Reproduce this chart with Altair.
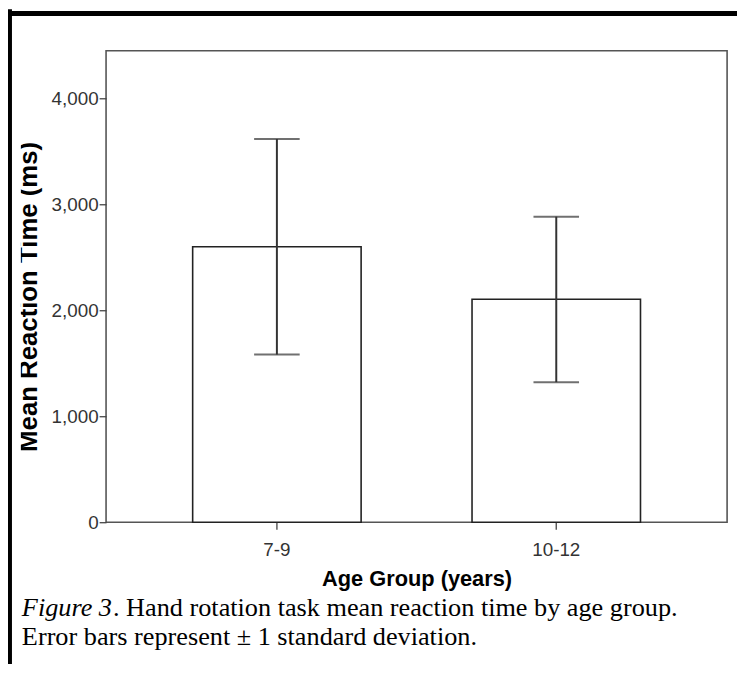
import altair as alt
import pandas as pd

# ---- data ----
groups = ["7-9", "10-12"]
means = [2600, 2105]
sd_low = [1582, 1322]
sd_high = [3617, 2884]
y_ticks = [0, 1000, 2000, 3000, 4000]
caption_italic = "Figure 3"
caption_line1 = ". Hand rotation task mean reaction time by age group."
caption_line2 = "Error bars represent \u00b1 1 standard deviation."

df = pd.DataFrame({"group": groups, "mean": means, "lo": sd_low, "hi": sd_high})

W, H = 627, 476
PAD_L, PAD_T = 99, 40
CAP_FS = 26.5
CAP_X = 22

xenc = alt.X(
    "group:N",
    sort=groups,
    scale=alt.Scale(paddingInner=0.397, paddingOuter=0.31),
    axis=alt.Axis(
        title="Age Group (years)",
        labelAngle=0,
        labelBaseline="alphabetic",
        labelPadding=27,
        titleY=64,
        titleFontSize=22,
        titleBaseline="alphabetic",
    ),
)
yscale = alt.Scale(domain=[0, 4450], nice=False)

base = alt.Chart(df)

bars = base.mark_bar(fill="white", stroke="#222", strokeWidth=1.6).encode(
    x=xenc,
    y=alt.Y(
        "mean:Q",
        scale=yscale,
        axis=alt.Axis(
            values=y_ticks,
            format=",.0f",
            title="Mean Reaction Time (ms)",
            labelPadding=1,
            titleFontSize=26,
            titleAngle=270,
            titleX=-70,
            titleY=248,
            titleAlign="center",
            titleBaseline="alphabetic",
        ),
    ),
)
rules = base.mark_rule(color="#333", strokeWidth=2).encode(
    x=alt.X("group:N", sort=groups), y=alt.Y("lo:Q", scale=yscale), y2="hi:Q"
)
cap_lo = base.mark_tick(color="#333", thickness=2, size=46).encode(
    x=alt.X("group:N", sort=groups), y=alt.Y("lo:Q", scale=yscale)
)
cap_hi = base.mark_tick(color="#333", thickness=2, size=46).encode(
    x=alt.X("group:N", sort=groups), y=alt.Y("hi:Q", scale=yscale)
)

one = pd.DataFrame({"k": [0]})
# the reference's left edge crops the tops of the rotated y title
crop = alt.Chart(one).mark_rect(color="white").encode(
    x=alt.value(-PAD_L + 3), x2=alt.value(21 - 8 - PAD_L),
    y=alt.value(60), y2=alt.value(430)
)
frame_top = alt.Chart(one).mark_rule(color="black", strokeWidth=5).encode(
    x=alt.value(-PAD_L - 2), x2=alt.value(W + 20), y=alt.value(-PAD_T + 2.5)
)
frame_left = alt.Chart(one).mark_rule(color="black", strokeWidth=4).encode(
    x=alt.value(-PAD_L + 2), y=alt.value(-PAD_T - 2), y2=alt.value(H + 200)
)

ITAL_W = 3.472 * CAP_FS
cap1a = alt.Chart(pd.DataFrame({"t": [caption_italic]})).mark_text(
    align="left", baseline="alphabetic", font="Liberation Serif", fontSize=CAP_FS,
    fontStyle="italic", color="black"
).encode(x=alt.value(CAP_X - 8 - PAD_L), y=alt.value(619 - 8 - PAD_T), text="t:N")
cap1b = alt.Chart(pd.DataFrame({"t": [caption_line1]})).mark_text(
    align="left", baseline="alphabetic", font="Liberation Serif", fontSize=CAP_FS,
    color="black"
).encode(x=alt.value(CAP_X + ITAL_W - 8 - PAD_L), y=alt.value(619 - 8 - PAD_T), text="t:N")
cap2 = alt.Chart(pd.DataFrame({"t": [caption_line2]})).mark_text(
    align="left", baseline="alphabetic", font="Liberation Serif", fontSize=CAP_FS,
    color="black"
).encode(x=alt.value(CAP_X - 8 - PAD_L), y=alt.value(648 - 8 - PAD_T), text="t:N")

chart = (
    alt.layer(bars, rules, cap_lo, cap_hi, crop, frame_top, frame_left, cap1a, cap1b, cap2)
    .properties(
        width=W,
        height=H,
        padding={"left": PAD_L, "top": PAD_T, "right": 10, "bottom": 140},
        autosize=alt.AutoSizeParams(type="none"),
        background="white",
    )
    .configure_view(stroke="#555", strokeWidth=1.6)
    .configure_axis(
        labelFont="Liberation Sans",
        labelFontSize=19,
        labelColor="#333",
        tickColor="#444",
        tickSize=7,
        tickWidth=1.3,
        titleFont="Liberation Sans",
        titleFontWeight="bold",
        titleColor="black",
        domain=False,
        grid=False,
    )
)

chart.save("out.html", embed_options={"renderer": "svg", "actions": False})
